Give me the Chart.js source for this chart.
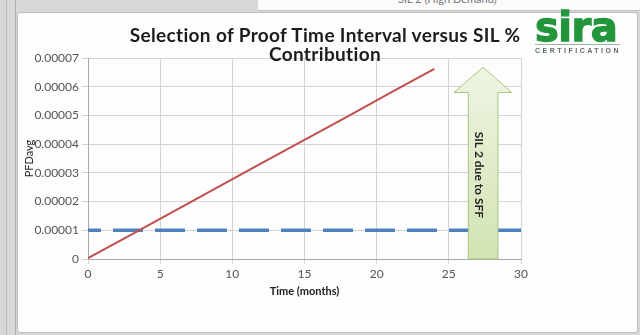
<!DOCTYPE html>
<html>
<head>
<meta charset="utf-8">
<script src="https://cdn.jsdelivr.net/npm/chart.js@4"></script>
<style>
  body { margin: 0; width: 640px; height: 335px; overflow: hidden; background: #d7d7d7; position: relative; font-family: Lato, sans-serif; }
  .strip1 { position: absolute; left: 6px; top: 0; width: 1px; height: 335px; background: #bcbcbc; }
  .strip2 { position: absolute; left: 15px; top: 0; width: 1px; height: 335px; background: #b0b0b0; }
  .topbox { position: absolute; left: 258px; top: -4px; width: 382px; height: 14px; background: #fbfbfb; border-bottom: 1px solid #c4c4c4; overflow: hidden; }
  .topbox span { position: absolute; left: 140px; top: -4px; font-size: 11px; color: #777; }
  .box { position: absolute; left: 17px; top: 12px; width: 619px; height: 319px; background: #fdfdfd; border: 1px solid #bdbdbd; border-radius: 3px; }
  canvas { position: absolute; left: 0; top: 0; }
  .title { position: absolute; left: 25px; top: 25px; width: 600px; text-align: center; font: bold 19px Lato, sans-serif; letter-spacing: 0.35px; line-height: 19px; color: #1c1c1c; }
  .logo { position: absolute; left: 535px; top: 8px; font: bold 40px "DejaVu Sans", sans-serif; line-height: 38px; color: #23963c; letter-spacing: -0.5px; -webkit-text-stroke: 1.3px #23963c; }
  .logoline { position: absolute; left: 535px; top: 44px; width: 85px; height: 1px; background: #9cb59f; }
  .cert { position: absolute; left: 535px; top: 47px; font: bold 7px "Liberation Sans", sans-serif; letter-spacing: 2.5px; color: #5e6b60; }
</style>
</head>
<body>
<div class="strip1"></div>
<div class="strip2"></div>
<div class="topbox"><span>SIL 2 (High Demand)</span></div>
<div class="box"></div>
<canvas id="myChart" width="640" height="335"></canvas>
<div class="title">Selection of Proof Time Interval versus SIL %<br>Contribution</div>
<div class="logo">sira</div>
<div class="logoline"></div>
<div class="cert">CERTIFICATION</div>
<script>
// values
var months = [0, 3, 6, 9, 12, 15, 18, 21, 24];
var pfdAvg = [0.0000003, 0.0000085, 0.0000168, 0.0000250, 0.0000333, 0.0000415, 0.0000497, 0.0000580, 0.0000662];
var silLimitX = [0, 30];
var silLimitY = [0.00001, 0.00001];
var xTicks = [0, 5, 10, 15, 20, 25, 30];
var yTicks = [0, 0.00001, 0.00002, 0.00003, 0.00004, 0.00005, 0.00006, 0.00007];
var arrowText = 'SIL 2 due to SFF';

function toPoints(xs, ys) {
    return xs.map(function (x, i) { return { x: x, y: ys[i] }; });
}

// block arrow drawn in data units over the lines
var arrowPlugin = {
    id: 'silArrow',
    afterDatasetsDraw: function (chart) {
        var ctx = chart.ctx;
        var xs = chart.scales.x, ys = chart.scales.y;
        var sl = xs.getPixelForValue(26.35), sr = xs.getPixelForValue(28.4);
        var hl = xs.getPixelForValue(25.35), hr = xs.getPixelForValue(29.35);
        var tip = ys.getPixelForValue(0.0000668), base = ys.getPixelForValue(0.000058);
        var bottom = ys.getPixelForValue(0);
        var cx = (sl + sr) / 2;
        ctx.save();
        var g = ctx.createLinearGradient(0, tip, 0, bottom);
        g.addColorStop(0, '#eef5e3');
        g.addColorStop(1, '#d3e3b2');
        ctx.beginPath();
        ctx.moveTo(cx, tip);
        ctx.lineTo(hr, base);
        ctx.lineTo(sr, base);
        ctx.lineTo(sr, bottom);
        ctx.lineTo(sl, bottom);
        ctx.lineTo(sl, base);
        ctx.lineTo(hl, base);
        ctx.closePath();
        ctx.fillStyle = g;
        ctx.fill();
        ctx.strokeStyle = '#a9c47e';
        ctx.lineWidth = 1;
        ctx.stroke();
        ctx.translate(xs.getPixelForValue(27.1), ys.getPixelForValue(0.0000293));
        ctx.rotate(Math.PI / 2);
        ctx.fillStyle = '#222';
        ctx.font = 'bold 12px Lato, sans-serif';
        ctx.textAlign = 'center';
        ctx.textBaseline = 'middle';
        ctx.fillText(arrowText, 0, 0);
        ctx.restore();
    }
};

var ctx = document.getElementById('myChart').getContext('2d');
var chart = new Chart(ctx, {
    type: 'scatter',
    data: {
        datasets: [{
            label: 'PFDavg',
            data: toPoints(months, pfdAvg),
            showLine: true,
            borderColor: '#c0504d',
            borderWidth: 2,
            pointRadius: 0
        }, {
            label: 'SIL limit',
            data: toPoints(silLimitX, silLimitY),
            showLine: true,
            borderColor: '#4f81bd',
            borderWidth: 3.5,
            borderDash: [30, 12],
            borderDashOffset: 17,
            pointRadius: 0
        }]
    },
    options: {
        responsive: false,
        animation: false,
        layout: { padding: { left: 17, right: 119, top: 58, bottom: 34 } },
        plugins: { legend: { display: false }, tooltip: { enabled: false } },
        scales: {
            x: {
                type: 'linear',
                min: 0,
                max: 30,
                afterBuildTicks: function (scale) { scale.ticks = xTicks.map(function (v) { return { value: v }; }); },
                afterFit: function (scale) { scale.height = 42; },
                grid: { color: '#d4d4d4', tickLength: 5 },
                border: { color: '#a8a8a8' },
                ticks: { color: '#555', font: { family: 'Lato', size: 12 }, padding: 3 },
                title: { display: true, text: 'Time (months)', color: '#222', font: { family: 'Lato', size: 11, weight: 'bold' }, padding: { top: 2, bottom: 3 } }
            },
            y: {
                min: 0,
                max: 0.00007,
                afterBuildTicks: function (scale) { scale.ticks = yTicks.map(function (v) { return { value: v }; }); },
                afterFit: function (scale) { scale.width = 71; },
                grid: { color: '#d4d4d4', tickLength: 6 },
                border: { color: '#a8a8a8' },
                ticks: {
                    color: '#555',
                    font: { family: 'Lato', size: 12 },
                    padding: 3,
                    callback: function (v) { return v === 0 ? '0' : v.toFixed(5); }
                },
                title: { display: true, text: 'PFDavg', color: '#222', font: { family: 'Lato', size: 11 }, padding: { top: 6, bottom: 0 } }
            }
        }
    },
    plugins: [arrowPlugin]
});
</script>
</body>
</html>
